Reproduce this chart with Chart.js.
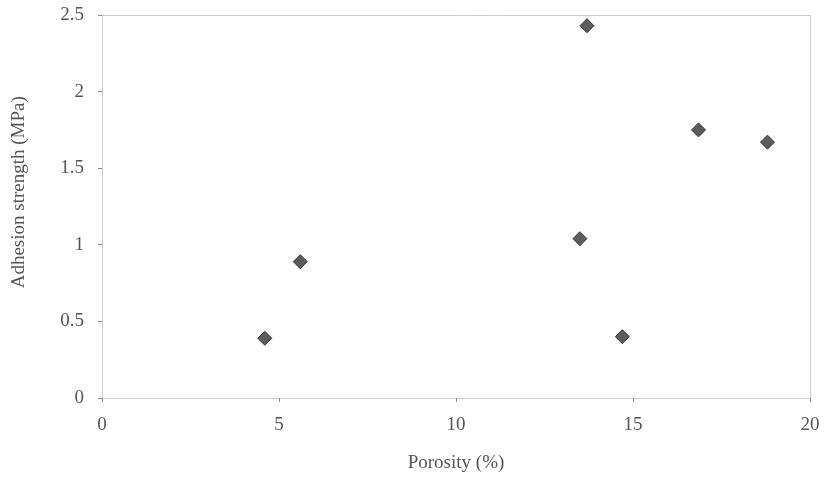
<!DOCTYPE html>
<html>
<head>
<meta charset="utf-8">
<script src="https://cdn.jsdelivr.net/npm/chart.js@4"></script>
<style>
    html, body { margin: 0; padding: 0; background: #fff; }
    #wrap { width: 825px; height: 481px; }
</style>
</head>
<body>
<div id="wrap"><canvas id="chart" width="825" height="481"></canvas></div>
<script>
// Porosity vs adhesion strength
const porosity = [4.6, 5.6, 13.5, 13.7, 14.7, 16.85, 18.8];
const adhesion = [0.39, 0.89, 1.04, 2.43, 0.40, 1.75, 1.67];
const xTicks = [0, 5, 10, 15, 20];
const yTicks = [0, 0.5, 1, 1.5, 2, 2.5];

const fontFamily = '"Liberation Serif", "DejaVu Serif", serif';
const textColor = '#555';

// dotted frame round the plot area
const frame = {
    id: 'frame',
    afterDraw(chart) {
        const a = chart.chartArea;
        const ctx = chart.ctx;
        ctx.save();
        ctx.strokeStyle = '#999';
        ctx.lineWidth = 1;
        ctx.setLineDash([1, 1]);
        ctx.strokeRect(Math.round(a.left) + 0.5, Math.round(a.top) + 0.5,
            Math.round(a.right - a.left), Math.round(a.bottom - a.top));
        ctx.restore();
    }
};

new Chart(document.getElementById('chart'), {
    type: 'scatter',
    data: {
        datasets: [{
            data: porosity.map((x, i) => ({ x: x, y: adhesion[i] })),
            pointStyle: 'rectRot',
            pointRadius: 7,
            pointHoverRadius: 7,
            backgroundColor: '#5c5c5c',
            borderColor: '#333',
            borderWidth: 1
        }]
    },
    options: {
        responsive: false,
        animation: false,
        layout: { padding: { top: 15, right: 15, left: 0, bottom: 0 } },
        plugins: {
            legend: { display: false },
            tooltip: { enabled: false }
        },
        scales: {
            x: {
                type: 'linear',
                min: 0,
                max: 20,
                afterFit: s => {
                    s.height = 83;
                    s.paddingLeft = 0;
                    s.paddingRight = 0;
                },
                afterBuildTicks: s => { s.ticks = xTicks.map(v => ({ value: v })); },
                grid: { drawOnChartArea: false, color: '#888', tickLength: 4 },
                border: { display: false },
                ticks: { color: textColor, padding: 12, font: { family: fontFamily, size: 19 } },
                title: {
                    display: true,
                    text: 'Porosity (%)',
                    color: textColor,
                    padding: { top: 0, bottom: 7 },
                    font: { family: fontFamily, size: 19 }
                }
            },
            y: {
                min: 0,
                max: 2.5,
                afterFit: s => {
                    s.width = 102;
                    s.paddingTop = 0;
                    s.paddingBottom = 0;
                },
                afterBuildTicks: s => { s.ticks = yTicks.map(v => ({ value: v })); },
                grid: { drawOnChartArea: false, color: '#888', tickLength: 4 },
                border: { display: false },
                ticks: {
                    color: textColor,
                    padding: 14,
                    font: { family: fontFamily, size: 19 },
                    callback: v => String(v)
                },
                title: {
                    display: true,
                    // leading spaces nudge the centred title up like the reference
                    text: '      Adhesion strength (MPa)',
                    color: textColor,
                    padding: { top: 8, bottom: 0 },
                    font: { family: fontFamily, size: 19 }
                }
            }
        }
    },
    plugins: [frame]
});
</script>
</body>
</html>
